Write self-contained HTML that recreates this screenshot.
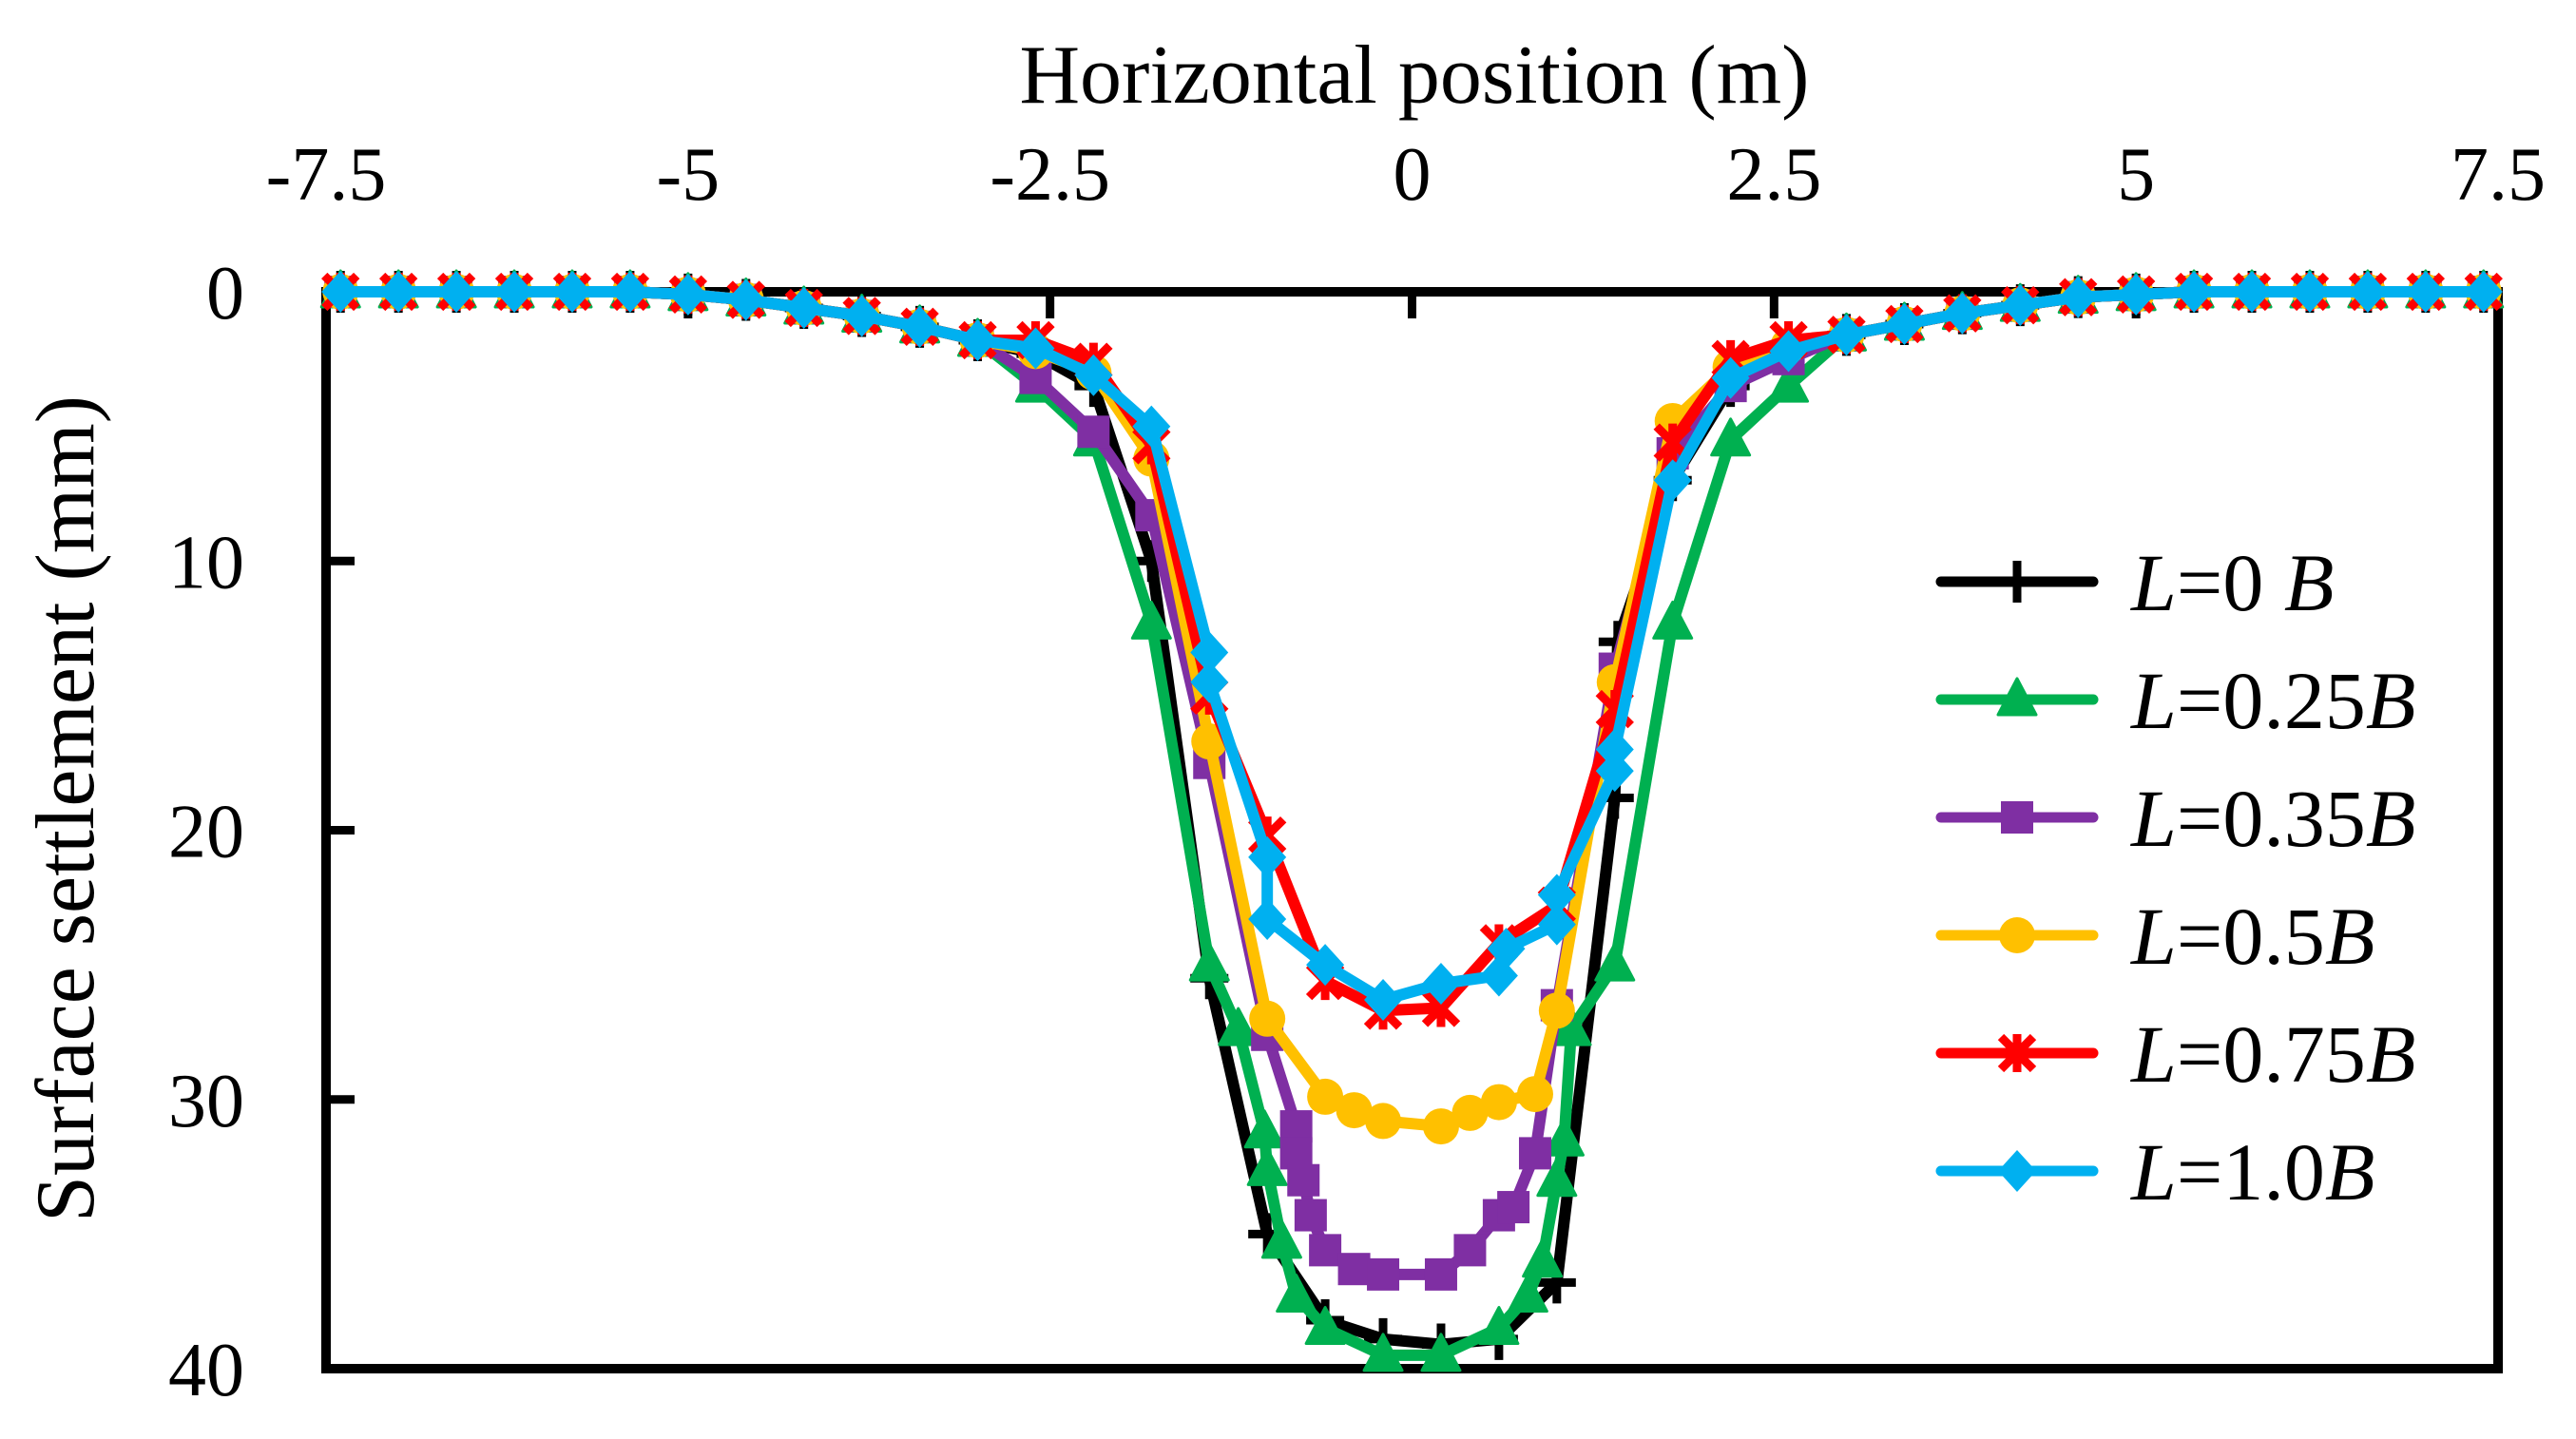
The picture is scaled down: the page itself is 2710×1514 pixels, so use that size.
<!DOCTYPE html>
<html><head><meta charset="utf-8"><style>
html,body{margin:0;padding:0;background:#fff;}
svg{display:block;}
text{font-family:"Liberation Serif",serif;fill:#000;}
</style></head><body>
<svg id="chart" width="2710" height="1514" viewBox="0 0 2710 1514" xmlns="http://www.w3.org/2000/svg">
<text x="1488" y="108" font-size="88" text-anchor="middle">Horizontal position (m)</text>
<text transform="translate(98,851) rotate(-90)" font-size="88" text-anchor="middle">Surface settlement (mm)</text>
<g id="axes"></g>
<g id="series"></g>
<g id="legend"></g>
</svg>
<script>
const xTicks = [-7.5,-5,-2.5,0,2.5,5,7.5];
const xTickLabels = ["-7.5","-5","-2.5","0","2.5","5","7.5"];
const yTicks = [0,10,20,30,40];
const yTickLabels = ["0","10","20","30","40"];
const seriesNames = ["L=0 B","L=0.25B","L=0.35B","L=0.5B","L=0.75B","L=1.0B"];
const tailX = [-7.4,-7.0,-6.6,-6.2,-5.8,-5.4,-5.0,-4.6,-4.2,-3.8,-3.4,-3.0];
const tailY = [0,0,0,0,0,0,0.1,0.3,0.6,0.9,1.3,1.8];
const tailRX = [3.0,3.4,3.8,4.2,4.6,5.0,5.4,5.8,6.2,6.6,7.0,7.4];
const tailRY = [1.6,1.2,0.8,0.5,0.2,0.1,0,0,0,0,0,0];
const xL0 = [-2.6,-2.2,-1.8,-1.4,-1.0,-0.6,-0.2,0.2,0.6,1.0,1.4,1.42,1.8,2.2,2.6];
const yL0 = [2.3,3.5,10,25.5,35,38.2,38.9,39.1,38.9,36.8,18.8,13,7,3.5,2.2];
const xL25 = [-2.6,-2.2,-1.8,-1.4,-1.2,-1.02,-1.0,-0.9,-0.8,-0.6,-0.2,0.2,0.6,0.8,0.9,1.0,1.05,1.1,1.4,1.8,2.2,2.6];
const yL25 = [3.5,5.5,12.3,25,27.4,31.2,32.6,35.3,37.3,38.5,39.5,39.5,38.5,37.3,36,33,31.5,27.4,25,12.3,5.5,3.5];
const xL35 = [-2.6,-2.2,-1.8,-1.4,-1.0,-0.8,-0.8,-0.75,-0.7,-0.6,-0.4,-0.2,0.2,0.4,0.6,0.7,0.85,1.0,1.4,1.8,2.2,2.6];
const yL35 = [3.2,5.2,8.3,17.5,27.6,31,32,33,34.3,35.6,36.3,36.5,36.5,35.6,34.3,34,32,26.5,14,6,3.5,2.5];
const xL50 = [-2.6,-2.2,-1.8,-1.4,-1.0,-0.6,-0.4,-0.2,0.2,0.4,0.6,0.85,1.0,1.4,1.8,2.2,2.6];
const yL50 = [2.2,3,6.2,16.7,27,29.9,30.4,30.8,31,30.5,30.1,29.8,26.7,14.5,4.8,2.8,2];
const xL75 = [-2.6,-2.2,-1.8,-1.4,-1.0,-0.6,-0.2,0.2,0.6,1.0,1.4,1.8,2.2,2.6];
const yL75 = [1.8,2.6,5.7,15,20.2,25.6,26.7,26.6,24.2,22.8,15.5,5.6,2.5,1.8];
const xL100 = [-2.6,-2.2,-1.8,-1.4,-1.4,-1.0,-1.0,-0.6,-0.2,0.2,0.6,0.65,1.0,1.0,1.4,1.4,1.8,2.2,2.6];
const yL100 = [2.1,3.1,5,13.4,14.5,21,23.3,25,26.3,25.7,25.4,24.4,23.5,22.4,17.8,17,7,3.2,2.2];
const colors = ["#000000","#00b050","#7f2fa3","#ffc000","#ff0000","#00b0f0"];
const markers = ["plus","tri","square","circle","star","diamond"];

const X0=343, X1=2628, Y0=307, Y1=1440;
function sx(v){return X0+(v+7.5)/15*(X1-X0);}
function sy(v){return Y0+v/40*(Y1-Y0);}
const NS="http://www.w3.org/2000/svg";
function mk(tag,attrs,parent){const e=document.createElementNS(NS,tag);for(const k in attrs)e.setAttribute(k,attrs[k]);parent.appendChild(e);return e;}

const axes=document.getElementById('axes');
let frame=mk('rect',{x:X0,y:Y0,width:X1-X0,height:Y1-Y0,fill:'none',stroke:'#000','stroke-width':10},axes);


xTicks.forEach((t,i)=>{
  const tk=mk('line',{x1:sx(t),x2:sx(t),y1:Y0,y2:Y0+28,stroke:'#000','stroke-width':9},axes);
  
  
  const lb=mk('text',{x:sx(t),y:210,'font-size':80,'text-anchor':'middle'},axes);
  lb.textContent=xTickLabels[i];
  
  
});
yTicks.forEach((t,i)=>{
  const tk=mk('line',{x1:X0,x2:X0+30,y1:sy(t),y2:sy(t),stroke:'#000','stroke-width':9},axes);
  
  
  const lb=mk('text',{x:257,y:sy(t)+28,'font-size':80,'text-anchor':'end'},axes);
  lb.textContent=yTickLabels[i];
  
  
});

function marker(type,x,y,c,parent){
  let e;
  if(type==='plus'){e=mk('path',{d:`M${x-20},${y}H${x+20}M${x},${y-22}V${y+22}`,stroke:c,'stroke-width':9,fill:'none'},parent);}
  else if(type==='tri'){e=mk('path',{d:`M${x},${y-22}L${x+20},${y+16}L${x-20},${y+16}Z`,fill:c,stroke:c,'stroke-width':3,'stroke-linejoin':'round'},parent);}
  else if(type==='square'){e=mk('rect',{x:x-17,y:y-17,width:34,height:34,fill:c},parent);}
  else if(type==='circle'){e=mk('circle',{cx:x,cy:y,r:19,fill:c},parent);}
  else if(type==='star'){e=mk('path',{d:`M${x-17},${y-17}L${x+17},${y+17}M${x+17},${y-17}L${x-17},${y+17}M${x},${y-20}V${y+20}`,stroke:c,'stroke-width':9,fill:'none'},parent);}
  else {e=mk('path',{d:`M${x},${y-22}L${x+20},${y}L${x},${y+22}L${x-20},${y}Z`,fill:c},parent);}
  return e;
}

const seriesX=[xL0,xL25,xL35,xL50,xL75,xL100];
const seriesY=[yL0,yL25,yL35,yL50,yL75,yL100];
const sg=document.getElementById('series');
seriesX.forEach((xs,si)=>{
  const X=tailX.concat(xs,tailRX), Y=tailY.concat(seriesY[si],tailRY);
  const g=mk('g',{},sg);
  
  
  const pl=mk('polyline',{points:X.map((v,i)=>sx(v)+','+sy(Y[i])).join(' '),fill:'none',stroke:colors[si],'stroke-width':12,'stroke-linejoin':'round'},g);
  
  
  X.forEach((v,i)=>{
    const m=marker(markers[si],sx(v),sy(Y[i]),colors[si],g);
    
    
  });
});

const lg=document.getElementById('legend');
const legY=[612,736,860,984,1108,1232];
seriesNames.forEach((n,i)=>{
  const g=mk('g',{},lg);
  
  
  mk('line',{x1:2042,x2:2202,y1:legY[i],y2:legY[i],stroke:colors[i],'stroke-width':11,'stroke-linecap':'round'},g);
  marker(markers[i],2122,legY[i],colors[i],g);
  const t=mk('text',{x:2242,y:legY[i]+30,'font-size':86},g);
  const m=n.match(/^L=([0-9. ]+)B$/);
  t.innerHTML='<tspan font-style="italic">L</tspan>='+m[1]+'<tspan font-style="italic">B</tspan>';
});
</script>
</body></html>
